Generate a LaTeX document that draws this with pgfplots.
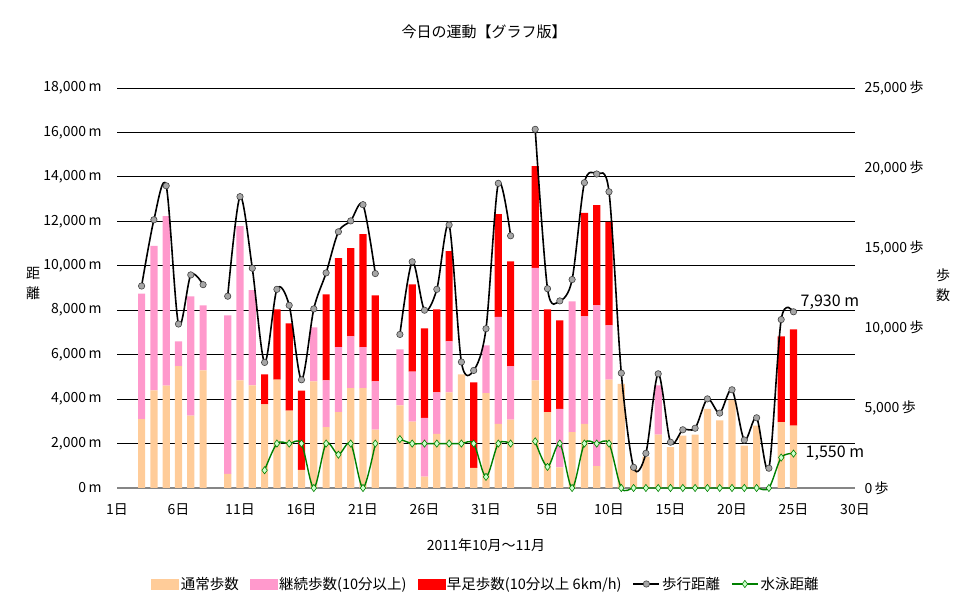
\documentclass[border=0pt]{standalone}
\usepackage{fontspec}
\setmainfont{Noto Sans CJK JP}
\usepackage{pgfplots}
\usepackage{pgfplotstable}
\pgfplotsset{compat=1.18}

\definecolor{cPeach}{HTML}{FFCC99}
\definecolor{cPink}{HTML}{FF99CC}
\definecolor{cRed}{HTML}{FF0000}
\definecolor{cSwim}{HTML}{008000}
\definecolor{cSwimFill}{HTML}{CCFFCC}
\definecolor{cMark}{HTML}{A6A6A6}
\definecolor{cAxis}{HTML}{868686}

% steps per day (day = 1..31 Oct, 32..61 Nov)
\pgfplotstableread{
day normal cont fast
3 4300 7850 0
4 6100 9030 0
5 6400 10590 0
6 7620 1540 0
7 4530 7450 0
8 7350 4070 0
10 880 9910 0
11 6720 9640 0
12 6410 5950 0
13 5220 0 1880
14 6780 0 4390
15 4840 0 5450
16 1130 0 4960
17 6660 3380 0
18 3800 2920 5380
19 4740 4070 5550
20 6240 3240 5510
21 6240 2570 7050
22 3650 3010 5380
24 5160 3500 0
25 4150 3130 5450
26 710 3670 5600
27 3380 2590 5200
28 5970 3190 5640
29 7100 0 0
30 1250 0 5350
31 5930 2980 0
32 4010 6680 6420
33 4280 3320 6570
35 6720 7030 6370
36 4740 0 6430
37 1290 3660 5530
38 3490 8180 0
39 4010 6720 6470
40 1360 10060 6260
41 6780 3380 6470
42 6510 0 0
43 1290 0 0
44 1960 0 0
45 3340 3070 0
46 2550 0 0
47 3280 0 0
48 3340 0 0
49 4950 0 0
50 4220 0 0
51 5510 0 0
52 2650 0 0
53 3900 0 0
55 4110 0 5370
56 3900 0 6010
}\steps

\begin{document}
\begin{tikzpicture}
\useasboundingbox (0,0) rectangle (969bp,603bp);
\pgfplotsset{
  base/.style={
    at={(117bp,115bp)}, anchor=south west,
    scale only axis, width=738bp, height=400bp,
    xmin=1, xmax=61,
    font=\fontsize{14bp}{16bp}\selectfont,
    /pgf/number format/assume math mode=true,
    /pgf/number format/1000 sep={,},
    scaled y ticks=false,
    major tick length=0pt,
  }
}
% axis A: grid, left ticks, x ticks
\begin{axis}[base,
  ymin=0, ymax=18000, ytick={0,2000,...,18000},
  yticklabel={\pgfmathprintnumber{\tick}\,m},
  yticklabel style={xshift=-12bp},
  ymajorgrids, grid style={black, line width=0.9bp},
  axis x line*=bottom, axis y line*=left,
  y axis line style={draw=none},
  x axis line style={draw=cAxis, line width=2bp, -},
  xtick={1,6,...,61},
  xticklabels={1日,6日,11日,16日,21日,26日,31日,5日,10日,15日,20日,25日,30日},
  xticklabel style={yshift=-12bp},
]
\addplot[draw=none, forget plot] coordinates {(1,0)};
\end{axis}
% axis B: stacked step bars (right axis)
\begin{axis}[base,
  ymin=0, ymax=25000, ytick={0,5000,...,25000},
  axis y line*=right, axis x line=none,
  y axis line style={draw=none},
  yticklabel={\pgfmathprintnumber{\tick}\,歩},
  yticklabel style={xshift=6bp},
  ybar stacked, bar width=7.2bp,
]
\addplot[fill=cPeach, draw=none] table[x=day, y=normal]{\steps};
\addplot[fill=cPink, draw=none] table[x=day, y=cont]{\steps};
\addplot[fill=cRed, draw=none] table[x=day, y=fast]{\steps};
\end{axis}
% axis C: distance lines (left axis scale)
\begin{axis}[base,
  ymin=0, ymax=18000, hide axis, clip=false,
  legend style={draw=none, fill=none, at={(0.5,-0.24)}, anchor=center,
    legend columns=-1, font=\fontsize{14.5bp}{16bp}\selectfont,
    /tikz/every even column/.append style={column sep=9bp}},
  legend image code/.code={\draw[mark repeat=2,mark phase=2,#1] plot coordinates {(0bp,0bp) (13bp,0bp) (26bp,0bp)};},
  walk/.style={black, line width=1.6bp, smooth, mark=*, mark size=3.2bp,
    mark options={fill=cMark, draw=black!75, line width=0.6bp, solid}},
  swim/.style={cSwim, line width=1.4bp, smooth, mark=diamond*, mark size=3.6bp,
    mark options={fill=cSwimFill, draw=cSwim, line width=0.6bp, solid}},
]
\addlegendimage{legend image code/.code={\fill[cPeach] (0bp,-4.7bp) rectangle (27bp,4.7bp);}}
\addlegendentry{通常歩数}
\addlegendimage{legend image code/.code={\fill[cPink] (0bp,-4.7bp) rectangle (27bp,4.7bp);}}
\addlegendentry{継続歩数(10分以上)}
\addlegendimage{legend image code/.code={\fill[cRed] (0bp,-4.7bp) rectangle (27bp,4.7bp);}}
\addlegendentry{早足歩数(10分以上 6km/h)}

\addplot[walk] coordinates {(3,9090) (4,12070) (5,13600) (6,7380) (7,9590) (8,9150)};
\addlegendentry{歩行距離}
\addplot[walk, forget plot] coordinates {(10,8630) (11,13110) (12,9890) (13,5650) (14,8940) (15,8220) (16,4870) (17,8060) (18,9680) (19,11530) (20,12020) (21,12750) (22,9650)};
\addplot[walk, forget plot] coordinates {(24,6910) (25,10180) (26,8000) (27,8940) (28,11840) (29,5670) (30,5290) (31,7170) (32,13710) (33,11350)};
\addplot[walk, forget plot] coordinates {(35,16140) (36,8970) (37,8420) (38,9380) (39,13740) (40,14130) (41,13330) (42,5170) (43,930) (44,1560) (45,5140) (46,2060) (47,2620) (48,2690) (49,4010) (50,3370) (51,4420) (52,2160) (53,3160) (54,890) (55,7580) (56,7930)};

\addplot[swim] coordinates {(13,800) (14,2000) (15,2000) (16,2000) (17,0) (18,2000) (19,1500) (20,2000) (21,0) (22,2000)};
\addlegendentry{水泳距離}
\addplot[swim, forget plot] coordinates {(24,2200) (25,2000) (26,2000) (27,2000) (28,2000) (29,2000) (30,2000) (31,500) (32,2000) (33,2000)};
\addplot[swim, forget plot] coordinates {(35,2100) (36,950) (37,2000) (38,0) (39,2000) (40,2000) (41,2000) (42,0) (43,0) (44,0) (45,0) (46,0) (47,0) (48,0) (49,0) (50,0) (51,0) (52,0) (53,0) (54,0) (55,1370) (56,1550)};

\node[anchor=west, font=\fontsize{16bp}{18bp}\selectfont, inner sep=0pt] at (axis cs:56,7930) [xshift=7bp, yshift=10bp] {7,930 m};
\node[anchor=west, font=\fontsize{16bp}{18bp}\selectfont, inner sep=0pt] at (axis cs:56,1550) [xshift=12bp, yshift=0bp] {1,550 m};
\end{axis}

\node[font=\fontsize{15bp}{17bp}\selectfont] at (484bp,571bp) {今日の運動【グラフ版】};
\node[font=\fontsize{14bp}{16bp}\selectfont] at (486bp,58bp) {2011年10月～11月};
\node[font=\fontsize{14bp}{20bp}\selectfont, align=center] at (33bp,320bp) {距\\離};
\node[font=\fontsize{14bp}{20bp}\selectfont, align=center] at (943bp,318bp) {歩\\数};
\end{tikzpicture}
\end{document}
